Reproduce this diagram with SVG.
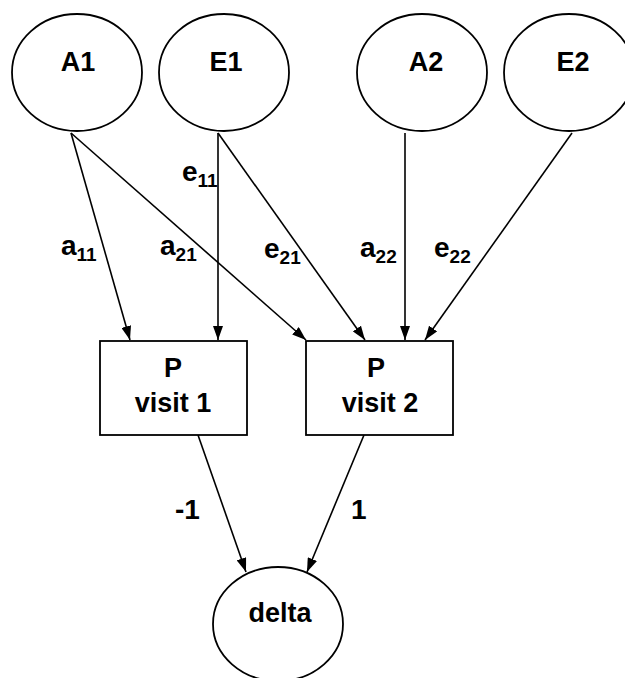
<svg xmlns="http://www.w3.org/2000/svg" width="625" height="678" viewBox="0 0 625 678">
<style>
.n{fill:#fff;stroke:#000;stroke-width:1.8}
.t{font-family:"Liberation Sans",Arial,sans-serif;font-weight:bold;font-size:27px;fill:#000;text-anchor:middle}
.l{font-family:"Liberation Sans",Arial,sans-serif;font-weight:bold;font-size:28px;fill:#000}
.s{font-size:19px}
.c line{stroke:#000;stroke-width:1.6;marker-end:url(#ah)}
</style>
<defs>
<marker id="ah" viewBox="0 0 14 10" refX="14" refY="5" markerWidth="14" markerHeight="10" markerUnits="userSpaceOnUse" orient="auto">
<path d="M0,0 L14,5 L0,10 Z" fill="#000"/>
</marker>
</defs>
<rect width="625" height="678" fill="#fff"/>
<g class="c">
<line x1="71" y1="133" x2="130" y2="340"/>
<line x1="71" y1="133" x2="306" y2="340"/>
<line x1="218" y1="133" x2="218" y2="340"/>
<line x1="218" y1="133" x2="365" y2="340"/>
<line x1="405" y1="133" x2="405" y2="340"/>
<line x1="572" y1="133" x2="425" y2="340"/>
<line x1="198" y1="435" x2="246" y2="572"/>
<line x1="364" y1="435" x2="307" y2="572"/>
</g>
<g id="A1"><ellipse class="n" cx="77" cy="72.5" rx="65" ry="58.5"/><text class="t" x="78" y="71">A1</text></g>
<g id="E1"><ellipse class="n" cx="224" cy="72.5" rx="65" ry="58.5"/><text class="t" x="226" y="71">E1</text></g>
<g id="A2"><ellipse class="n" cx="422" cy="72.5" rx="65" ry="58.5"/><text class="t" x="426" y="71">A2</text></g>
<g id="E2"><ellipse class="n" cx="569" cy="72.5" rx="65" ry="58.5"/><text class="t" x="573" y="71">E2</text></g>
<g id="P1"><rect class="n" x="100" y="341" width="147" height="94"/><text class="t" x="173" y="377">P</text><text class="t" x="173" y="412">visit 1</text></g>
<g id="P2"><rect class="n" x="306" y="341" width="147" height="94"/><text class="t" x="376" y="377">P</text><text class="t" x="380" y="412">visit 2</text></g>
<g id="delta"><ellipse class="n" cx="278" cy="624" rx="65" ry="57"/><text class="t" x="280" y="622">delta</text></g>
<g id="labels">
<text class="l" x="182" y="181">e<tspan class="s" dy="6">11</tspan></text>
<text class="l" x="61" y="255">a<tspan class="s" dy="6">11</tspan></text>
<text class="l" x="160" y="255">a<tspan class="s" dy="6">21</tspan></text>
<text class="l" x="264" y="258">e<tspan class="s" dy="6">21</tspan></text>
<text class="l" x="360" y="257">a<tspan class="s" dy="6">22</tspan></text>
<text class="l" x="434" y="257">e<tspan class="s" dy="6">22</tspan></text>
<text class="l" x="175" y="519">-1</text>
<text class="l" x="351" y="519">1</text>
</g>
</svg>
